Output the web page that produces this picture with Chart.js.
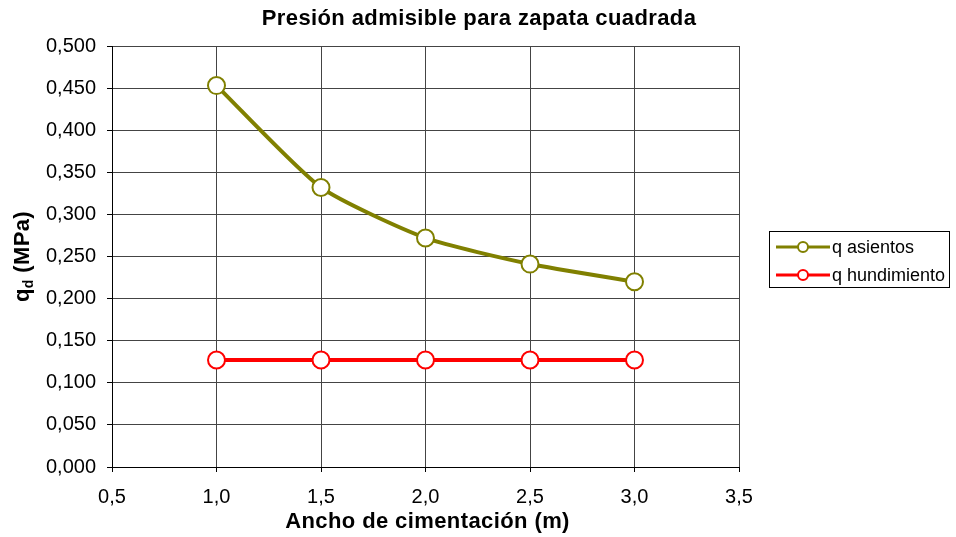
<!DOCTYPE html>
<html>
<head>
<meta charset="utf-8">
<script src="https://cdn.jsdelivr.net/npm/chart.js@4.4.1/dist/chart.umd.min.js"></script>
<style>
html,body{margin:0;padding:0;background:#fff;}
#wrap{width:956px;height:537px;}
</style>
</head>
<body>
<div id="wrap"><canvas id="c" width="956" height="537"></canvas></div>
<script>
const chartTitle = "Presión admisible para zapata cuadrada";
const xTitle = "Ancho de cimentación (m)";
const yTitleMain = "q";
const yTitleSub = "d";
const yTitleRest = " (MPa)";
const seriesNames = ["q asientos", "q hundimiento"];
const seriesColors = ["#808000", "#FF0000"];
const widths = [1.0, 1.5, 2.0, 2.5, 3.0];
const qAsientos = [0.453, 0.332, 0.272, 0.241, 0.220];
const qHundimiento = [0.127, 0.127, 0.127, 0.127, 0.127];
const xMin = 0.5, xMax = 3.5, xStep = 0.5;
const yMin = 0, yMax = 0.5, yStep = 0.05;

const FONT = "'Liberation Sans', Arial, sans-serif";

function toPoints(xs, ys){ return xs.map((x,i)=>({x:x, y:ys[i]})); }

const decorPlugin = {
  id: 'decor',
  afterDraw(chart){
    const ctx = chart.ctx;
    const ca = chart.chartArea;
    ctx.save();
    ctx.fillStyle = '#000';
    // title
    ctx.letterSpacing = '0.4px';
    ctx.font = "bold 22px " + FONT;
    ctx.textAlign = 'center';
    ctx.textBaseline = 'middle';
    ctx.fillText(chartTitle, 479, 19);
    // x title
    ctx.fillText(xTitle, (ca.left + ca.right)/2 + 2, 522);
    // y title rotated
    ctx.save();
    ctx.translate(23, (ca.top + ca.bottom)/2);
    ctx.rotate(-Math.PI/2);
    ctx.textAlign = 'left';
    ctx.font = "bold 22px " + FONT;
    const w1 = ctx.measureText(yTitleMain).width;
    ctx.font = "bold 14px " + FONT;
    const w2 = ctx.measureText(yTitleSub).width;
    ctx.font = "bold 22px " + FONT;
    const w3 = ctx.measureText(yTitleRest).width;
    let x0 = -(w1 + w2 + w3)/2;
    ctx.font = "bold 22px " + FONT;
    ctx.fillText(yTitleMain, x0, 0);
    ctx.font = "bold 14px " + FONT;
    ctx.fillText(yTitleSub, x0 + w1, 6);
    ctx.font = "bold 22px " + FONT;
    ctx.fillText(yTitleRest, x0 + w1 + w2, 0);
    ctx.restore();
    // legend
    ctx.letterSpacing = '0px';
    const bx = 769, by = 231, bw = 180, bh = 56;
    ctx.fillStyle = '#fff';
    ctx.fillRect(bx, by, bw, bh);
    ctx.strokeStyle = '#000';
    ctx.lineWidth = 1;
    ctx.strokeRect(bx + 0.5, by + 0.5, bw, bh);
    chart.data.datasets.forEach((ds, i) => {
      const cy = by + 16 + i * 28;
      ctx.strokeStyle = ds.borderColor;
      ctx.lineWidth = 3;
      ctx.beginPath();
      ctx.moveTo(bx + 7, cy);
      ctx.lineTo(bx + 61, cy);
      ctx.stroke();
      ctx.beginPath();
      ctx.arc(bx + 34, cy, 5, 0, Math.PI*2);
      ctx.fillStyle = '#fff';
      ctx.fill();
      ctx.lineWidth = 2;
      ctx.stroke();
      ctx.fillStyle = '#000';
      ctx.font = "18px " + FONT;
      ctx.textAlign = 'left';
      ctx.textBaseline = 'middle';
      ctx.fillText(ds.label, bx + 63, cy + 1);
    });
    ctx.restore();
  }
};

const fmt = (v, d) => v.toFixed(d).replace('.', ',');

new Chart(document.getElementById('c'), {
  type: 'line',
  data: {
    datasets: [
      {
        label: seriesNames[0],
        data: toPoints(widths, qAsientos),
        borderColor: seriesColors[0],
        backgroundColor: '#fff',
        pointBackgroundColor: '#fff',
        pointBorderColor: seriesColors[0],
        pointRadius: 8.5,
        pointBorderWidth: 2,
        borderWidth: 4,
        tension: 0.2,
        fill: false
      },
      {
        label: seriesNames[1],
        data: toPoints(widths, qHundimiento),
        borderColor: seriesColors[1],
        backgroundColor: '#fff',
        pointBackgroundColor: '#fff',
        pointBorderColor: seriesColors[1],
        pointRadius: 8.5,
        pointBorderWidth: 2,
        borderWidth: 4,
        fill: false
      }
    ]
  },
  options: {
    responsive: false,
    animation: false,
    devicePixelRatio: 1,
    layout: { padding: { left: 0, top: 46, right: 217, bottom: 0 } },
    plugins: {
      legend: { display: false },
      title: { display: false },
      tooltip: { enabled: false }
    },
    scales: {
      x: {
        type: 'linear',
        min: xMin, max: xMax,
        ticks: {
          stepSize: xStep,
          color: '#000',
          font: { family: FONT, size: 20 },
          padding: 13,
          maxRotation: 0,
          callback: v => fmt(v, 1)
        },
        grid: { color: '#444', lineWidth: 1, tickLength: 5, tickColor: '#000', drawTicks: true },
        border: { color: '#000', width: 1 },
        afterFit(scale){ scale.height = 70; }
      },
      y: {
        min: yMin, max: yMax,
        ticks: {
          stepSize: yStep,
          color: '#000',
          font: { family: FONT, size: 20 },
          padding: 11,
          callback: v => fmt(v, 3)
        },
        grid: { color: '#444', lineWidth: 1, tickLength: 5, tickColor: '#000', drawTicks: true },
        border: { color: '#000', width: 1 },
        afterFit(scale){ scale.width = 112; }
      }
    }
  },
  plugins: [decorPlugin]
});
</script>
</body>
</html>
